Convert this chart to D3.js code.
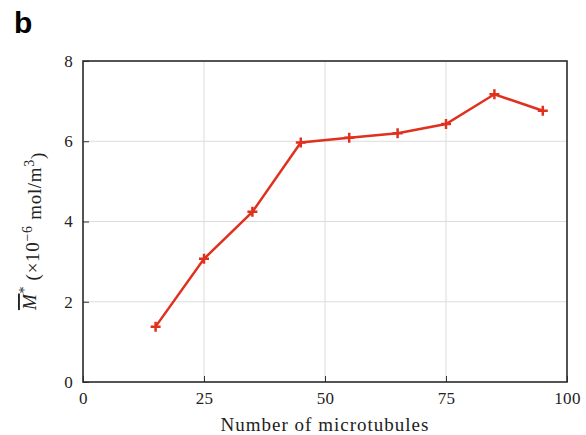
<!DOCTYPE html>
<html>
<head>
<meta charset="utf-8">
<script src="https://cdn.jsdelivr.net/npm/d3@7/dist/d3.min.js"></script>
<style>
  html, body { margin: 0; padding: 0; background: #fff; }
  svg { display: block; }
</style>
</head>
<body>
<svg id="chart" width="586" height="435"></svg>
<script>
// Mean concentration versus number of microtubules
const microtubules = [15, 25, 35, 45, 55, 65, 75, 85, 95];
const meanConc = [1.38, 3.07, 4.24, 5.97, 6.09, 6.20, 6.43, 7.17, 6.76];
const xTicks = [0, 25, 50, 75, 100];
const yTicks = [0, 2, 4, 6, 8];

const svg = d3.select("#chart");
const margin = { left: 83, right: 19, top: 61, bottom: 53 };
const W = 586, H = 435;

const x = d3.scaleLinear().domain([0, 100]).range([margin.left, W - margin.right]);
const y = d3.scaleLinear().domain([0, 8]).range([H - margin.bottom, margin.top]);

const fontFam = "'Liberation Serif', serif";

// Grid lines
svg.append("g").selectAll("line").data(xTicks.slice(1, -1)).join("line")
  .attr("x1", d => x(d)).attr("x2", d => x(d))
  .attr("y1", y(0)).attr("y2", y(8))
  .attr("stroke", "#dcdcdc").attr("stroke-width", 1);
svg.append("g").selectAll("line").data(yTicks.slice(1, -1)).join("line")
  .attr("x1", x(0)).attr("x2", x(100))
  .attr("y1", d => y(d)).attr("y2", d => y(d))
  .attr("stroke", "#dcdcdc").attr("stroke-width", 1);

// Axes with inward ticks
const xAxis = d3.axisBottom(x).tickValues(xTicks).tickSizeInner(-6).tickSizeOuter(0).tickPadding(10);
const yAxis = d3.axisLeft(y).tickValues(yTicks).tickSizeInner(-6).tickSizeOuter(0).tickPadding(10);

const gx = svg.append("g").attr("transform", `translate(0,${y(0)})`).call(xAxis);
const gy = svg.append("g").attr("transform", `translate(${x(0)},0)`).call(yAxis);
[gx, gy].forEach(g => {
  g.select(".domain").remove();
  g.selectAll(".tick line").attr("stroke", "#333").attr("stroke-width", 1);
  g.selectAll(".tick text").attr("font-family", fontFam).attr("font-size", 17)
    .attr("fill", "#222").attr("letter-spacing", 0.3);
});

// Frame
svg.append("rect")
  .attr("x", x(0)).attr("y", y(8))
  .attr("width", x(100) - x(0)).attr("height", y(0) - y(8))
  .attr("fill", "none").attr("stroke", "#2a2a2a").attr("stroke-width", 1.6);

// Data line
const pts = microtubules.map((m, i) => [m, meanConc[i]]);
svg.append("path")
  .datum(pts)
  .attr("fill", "none")
  .attr("stroke", "#e0301e")
  .attr("stroke-width", 2.5)
  .attr("d", d3.line().x(d => x(d[0])).y(d => y(d[1])));

// Plus markers
svg.append("g").selectAll("path").data(pts).join("path")
  .attr("d", d => {
    const cx = x(d[0]), cy = y(d[1]), r = 5;
    return `M${cx - r},${cy}H${cx + r}M${cx},${cy - r}V${cy + r}`;
  })
  .attr("stroke", "#e0301e").attr("stroke-width", 2.5).attr("fill", "none");

// X axis title
svg.append("text")
  .attr("x", (x(0) + x(100)) / 2).attr("y", 431)
  .attr("text-anchor", "middle")
  .attr("font-family", fontFam).attr("font-size", 19).attr("fill", "#222")
  .attr("letter-spacing", 1)
  .text("Number of microtubules");

// Y axis title
const yl = svg.append("text")
  .attr("transform", `translate(36,231) rotate(-90)`)
  .attr("text-anchor", "middle")
  .attr("font-family", fontFam).attr("font-size", 19).attr("fill", "#222")
  .attr("letter-spacing", 0.7);
yl.append("tspan").attr("font-style", "italic").style("text-decoration", "overline").text("M");
yl.append("tspan").attr("font-size", 14).attr("dy", "-0.5em").text("*");
yl.append("tspan").attr("dy", "0.5em").text(" (×10");
yl.append("tspan").attr("font-size", 14).attr("dy", "-0.5em").text("−6");
yl.append("tspan").attr("dy", "0.5em").text("  mol/m");
yl.append("tspan").attr("font-size", 14).attr("dy", "-0.5em").text("3");
yl.append("tspan").attr("dy", "0.5em").text(")");

// Panel letter
svg.append("text")
  .attr("x", 14).attr("y", 33)
  .attr("font-family", "'Liberation Sans', Arial, sans-serif")
  .attr("font-weight", "bold").attr("font-size", 30).attr("fill", "#000")
  .text("b");
</script>
</body>
</html>
